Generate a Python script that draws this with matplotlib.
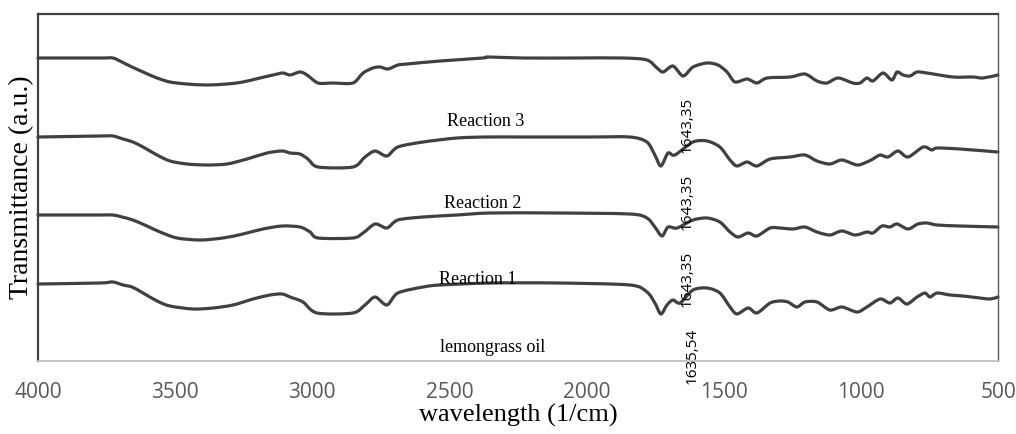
import matplotlib
matplotlib.use("Agg")
import matplotlib.pyplot as plt
from matplotlib.path import Path
from matplotlib.patches import PathPatch

# ---- data ----
wn_r3 = [4000, 3774, 3727, 3694, 3665, 3617, 3566, 3519, 3457, 3384,
         3311, 3253, 3191, 3143, 3107, 3081, 3045, 3019, 2979, 2925,
         2852, 2815, 2779, 2753, 2724, 2688, 2655, 2534, 2378, 2359,
         2232, 2050, 1867, 1780, 1743, 1721, 1685, 1648, 1612, 1561,
         1521, 1488, 1459, 1415, 1379, 1342, 1258, 1204, 1160, 1124,
         1083, 1029, 1003, 978, 956, 919, 887, 868, 846, 821,
         795, 759, 664, 591, 555, 500]
t_r3 = [303, 303, 303, 299, 295, 289, 283, 279, 277, 276,
        277, 279, 283, 286, 288, 286, 289, 286, 278, 278,
        278, 288, 293, 294, 292, 296, 297, 300, 303, 304,
        303, 303, 303, 301, 293, 289, 295, 285, 294, 298,
        296, 289, 279, 282, 278, 283, 284, 287, 280, 278,
        283, 278, 278, 283, 280, 288, 281, 289, 286, 285,
        289, 288, 284, 284, 283, 286]

wn_r2 = [4000, 3774, 3727, 3690, 3654, 3617, 3566, 3519, 3457, 3384,
         3311, 3238, 3165, 3110, 3081, 3045, 3016, 2979, 2852, 2808,
         2771, 2728, 2688, 2596, 2472, 2363, 2232, 1988, 1842, 1780,
         1751, 1729, 1703, 1678, 1612, 1561, 1514, 1477, 1452, 1415,
         1379, 1331, 1258, 1204, 1160, 1113, 1069, 1014, 978, 956,
         930, 901, 865, 828, 773, 741, 722, 639, 500]
t_r2 = [224, 225, 225, 222, 219, 214, 206, 200, 197, 196,
        197, 202, 208, 210, 208, 207, 202, 194, 194, 204,
        210, 205, 214, 219, 223, 224, 224, 224, 224, 219,
        206, 195, 208, 206, 219, 220, 214, 201, 195, 199,
        195, 202, 204, 206, 200, 197, 201, 196, 199, 202,
        206, 204, 210, 204, 214, 211, 213, 212, 209]

wn_r1 = [4000, 3774, 3727, 3694, 3654, 3603, 3555, 3493, 3409, 3326,
         3253, 3180, 3110, 3045, 3008, 2979, 2852, 2815, 2771, 2728,
         2688, 2596, 2472, 2352, 2108, 1842, 1780, 1751, 1725, 1703,
         1670, 1612, 1561, 1514, 1477, 1448, 1411, 1379, 1331, 1295,
         1247, 1204, 1160, 1113, 1069, 1021, 978, 956, 923, 894,
         868, 828, 792, 759, 722, 639, 500]
t_r1 = [146, 146, 146, 144, 141, 135, 129, 123, 121, 123,
        127, 132, 135, 134, 129, 123, 123, 128, 137, 133,
        141, 144, 146, 148, 148, 147, 143, 134, 125, 134,
        133, 141, 143, 139, 129, 124, 128, 125, 133, 133,
        132, 134, 129, 126, 130, 126, 129, 128, 135, 134,
        137, 132, 137, 138, 136, 135, 134]

wn_oil = [4000, 3774, 3727, 3690, 3657, 3617, 3566, 3519, 3435, 3362,
          3289, 3216, 3154, 3110, 3081, 3034, 2983, 2852, 2808, 2771,
          2728, 2688, 2596, 2534, 2352, 2108, 1842, 1780, 1751, 1729,
          1707, 1685, 1659, 1612, 1561, 1514, 1477, 1452, 1411, 1379,
          1331, 1295, 1266, 1233, 1204, 1160, 1113, 1069, 1014, 978,
          930, 894, 865, 832, 795, 766, 748, 722, 675, 628,
          566, 529, 500]
t_oil = [77, 78, 79, 76, 74, 68, 60, 55, 52, 53,
         56, 62, 66, 67, 64, 59, 48, 48, 56, 64,
         56, 68, 74, 76, 78, 78, 76, 69, 58, 47,
         56, 61, 58, 71, 73, 68, 54, 47, 53, 48,
         58, 60, 59, 54, 59, 59, 51, 54, 49, 54,
         62, 58, 63, 57, 64, 68, 64, 68, 66, 65,
         63, 62, 64]

series_labels = ["Reaction 3", "Reaction 2", "Reaction 1", "lemongrass oil"]
label_wn = [2367, 2378, 2396, 2341]
label_t = [240, 158, 81, 13]

peak_labels = ["1643,35", "1643,35", "1643,35", "1635,54"]
peak_wn = [1634, 1634, 1632, 1614]
peak_t = [236, 159, 82, 5]

xticks = [4000, 3500, 3000, 2500, 2000, 1500, 1000, 500]


def smooth_path(xs, ys):
    """Smoothed polyline (Catmull-Rom drawn as cubic Bezier, like a spreadsheet 'smoothed line')."""
    pts = list(zip(xs, ys))
    n = len(pts)
    verts = [pts[0]]
    codes = [Path.MOVETO]
    k = 1.0 / 7.0
    for i in range(n - 1):
        p0 = pts[i - 1] if i > 0 else pts[i]
        p1 = pts[i]
        p2 = pts[i + 1]
        p3 = pts[i + 2] if i + 2 < n else pts[i + 1]
        c1 = (p1[0] + (p2[0] - p0[0]) * k, p1[1] + (p2[1] - p0[1]) * k)
        c2 = (p2[0] - (p3[0] - p1[0]) * k, p2[1] - (p3[1] - p1[1]) * k)
        verts += [c1, c2, p2]
        codes += [Path.CURVE4, Path.CURVE4, Path.CURVE4]
    return Path(verts, codes)


# ---- figure ----
fig = plt.figure(figsize=(10.16, 4.34), dpi=100)
ax = fig.add_axes([38 / 1016, 73 / 434, 960 / 1016, 347 / 434])

line_color = "#404040"
for wn, t in [(wn_r3, t_r3), (wn_r2, t_r2), (wn_r1, t_r1), (wn_oil, t_oil)]:
    assert len(wn) == len(t)
    patch = PathPatch(smooth_path(wn, t), facecolor="none", edgecolor=line_color,
                      lw=2.3, joinstyle="round", capstyle="round",
                      transform=ax.transData, clip_on=False)
    ax.add_patch(patch)

ax.set_xlim(4000, 500)
ax.set_ylim(0, 347)
ax.set_xticks(xticks)
ax.set_xticklabels([str(v) for v in xticks], fontsize=15, color="#595959",
                   family=["Open Sans", "DejaVu Sans"])
ax.set_yticks([])
ax.tick_params(axis="x", length=0, pad=15)

for s in ["left", "top"]:
    ax.spines[s].set_color("#404040")
    ax.spines[s].set_linewidth(1.6)
ax.spines["right"].set_color("#595959")
ax.spines["right"].set_linewidth(1.0)
ax.spines["bottom"].set_color("#bfbfbf")
ax.spines["bottom"].set_linewidth(1.3)

ax.set_xlabel("wavelength (1/cm)", family=["Liberation Serif", "DejaVu Serif"],
              fontsize=19, labelpad=1)
ax.set_ylabel("Transmittance (a.u.)", family=["Liberation Serif", "DejaVu Serif"],
              fontsize=20, labelpad=3)

for lab, x, y in zip(series_labels, label_wn, label_t):
    ax.text(x, y, lab, family=["Liberation Serif", "DejaVu Serif"], fontsize=13,
            ha="center", va="center", color="black")

for lab, x, y in zip(peak_labels, peak_wn, peak_t):
    ax.text(x, y, lab, family=["Open Sans", "DejaVu Sans"], fontsize=11,
            rotation=90, ha="center", va="center", color="black", clip_on=False)

fig.savefig("out.png", dpi=100)
